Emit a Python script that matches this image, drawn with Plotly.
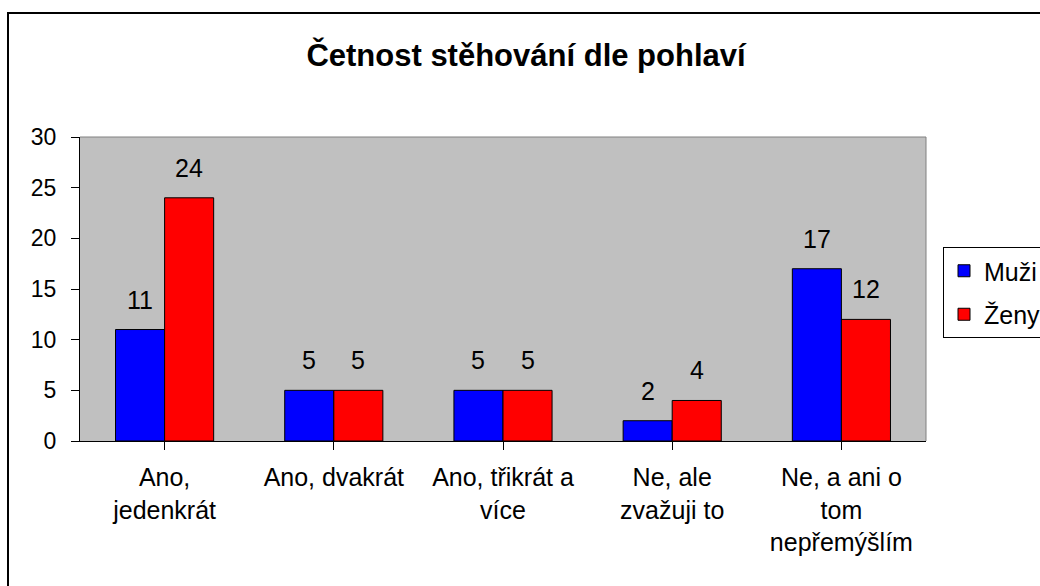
import plotly.graph_objects as go

# ---- data ----
categories = ["Ano,<br>jedenkrát", "Ano, dvakrát", "Ano, třikrát a<br>více",
              "Ne, ale<br>zvažuji to", "Ne, a ani o<br>tom<br>nepřemýšlím"]
muzi = [11, 5, 5, 2, 17]
zeny = [24, 5, 5, 4, 12]
series_names = ["Muži", "Ženy"]
y_ticks = [0, 5, 10, 15, 20, 25, 30]
title_text = "Četnost stěhování dle pohlaví"

# ---- layout constants ----
W, H = 1040, 586
L, R, T, B = 80, 114, 137, 145
PW, PH = W - L - R, H - T - B
FONT = "Liberation Sans, Arial, sans-serif"
BARGAP = 0.42
bar_w = (1 - BARGAP) / 2

x_idx = list(range(len(categories)))

fig = go.Figure()
for name, vals, col in [(series_names[0], muzi, "#0000FF"), (series_names[1], zeny, "#FF0000")]:
    fig.add_trace(go.Bar(
        x=x_idx, y=vals, name=name, legendgroup=name,
        marker=dict(color=col, line=dict(color="#000000", width=1)),
    ))

# data labels
annotations = []
for vals, off in [(muzi, -bar_w / 2), (zeny, bar_w / 2)]:
    for i, v in enumerate(vals):
        annotations.append(dict(
            x=i + off, y=v, xref="x", yref="y", text=str(v), showarrow=False,
            yanchor="middle", yshift=30,
            font=dict(family=FONT, size=25, color="#000000"),
        ))

def px_to_paper_x(px):
    return (px - L) / PW

def px_to_paper_y(py):
    return (H - B - py) / PH

shapes = [
    # plot-area border (top/right)
    dict(type="line", xref="paper", yref="paper", x0=0, x1=1, y0=1, y1=1,
         line=dict(color="#808080", width=1)),
    dict(type="line", xref="paper", yref="paper", x0=1, x1=1, y0=0, y1=1,
         line=dict(color="#808080", width=1)),
    # chart outer border
    dict(type="rect", xref="paper", yref="paper",
         x0=px_to_paper_x(8), x1=px_to_paper_x(W + 10),
         y0=px_to_paper_y(H + 10), y1=px_to_paper_y(13),
         line=dict(color="#000000", width=2), fillcolor="rgba(0,0,0,0)", layer="above"),
]

fig.update_layout(
    width=W, height=H,
    margin=dict(l=L, r=R, t=T, b=B, autoexpand=False),
    paper_bgcolor="#FFFFFF", plot_bgcolor="#C0C0C0",
    barmode="group", bargap=BARGAP, bargroupgap=0,
    font=dict(family=FONT, size=25, color="#000000"),
    title=dict(text="<b>" + title_text + "</b>", x=526 / W, xref="container", xanchor="center",
               y=1 - 55 / H, yref="container", yanchor="middle",
               font=dict(family=FONT, size=31, color="#000000")),
    xaxis=dict(
        tickmode="array", tickvals=x_idx, ticktext=categories,
        range=[-0.5, len(categories) - 0.5],
        showline=True, linecolor="#000000", linewidth=1,
        ticks="outside", ticklen=8, tickcolor="#000000", tickwidth=1,
        showgrid=False, zeroline=False,
        tickfont=dict(family=FONT, size=25, color="#000000"),
        ticklabelstandoff=6,
    ),
    yaxis=dict(
        range=[0, 30], tickvals=y_ticks,
        showline=True, linecolor="#000000", linewidth=1,
        ticks="outside", ticklen=8, tickcolor="#000000", tickwidth=1,
        showgrid=False, zeroline=False,
        tickfont=dict(family=FONT, size=23, color="#000000"),
        ticklabelstandoff=10,
    ),
    legend=dict(
        x=px_to_paper_x(943), y=px_to_paper_y(247), xanchor="left", yanchor="top",
        bgcolor="#FFFFFF", bordercolor="#000000", borderwidth=1,
        font=dict(family=FONT, size=25, color="#000000"),
        tracegroupgap=8, traceorder="grouped",
    ),
    annotations=annotations,
    shapes=shapes,
)

fig.write_html("out.html", config={"displayModeBar": False},
               post_script="document.body.style.margin='0';")
